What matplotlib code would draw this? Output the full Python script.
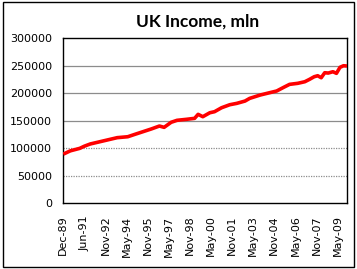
"""UK income (mln) line chart, Excel-style look."""

import matplotlib

matplotlib.use("Agg")
import matplotlib.pyplot as plt
from matplotlib.patches import Rectangle

# months since Dec-89
months = [0, 6, 14, 18, 23, 31, 40, 46, 55, 61, 68, 75, 82, 86, 92, 97, 105,
          112, 115, 119, 125, 129, 135, 142, 148, 155, 159, 168, 176, 182, 188,
          193, 200, 206, 210, 214, 217, 220, 223, 226, 230, 233, 236, 239, 242]
income = [89000, 95000, 99500, 103500, 107500, 111500, 116000, 119000, 120700,
          125000, 129900, 134800, 140200, 137800, 147000, 150600, 152400,
          154200, 161500, 157200, 164400, 166300, 173500, 179000, 181500,
          185700, 190600, 196700, 200900, 204000, 210700, 216100, 218000,
          220900, 225200, 230000, 231800, 228200, 237300, 236700, 239100,
          236200, 247100, 250000, 249500]

tick_labels = ["Dec-89", "Jun-91", "Nov-92", "May-94", "Nov-95", "May-97",
               "Nov-98", "May-00", "Nov-01", "May-03", "Nov-04", "May-06",
               "Nov-07", "May-09"]
y_ticks = [0, 50000, 100000, 150000, 200000, 250000, 300000]

fig = plt.figure(figsize=(3.57, 2.69), dpi=100)
fig.patches.append(Rectangle((0.008, 0.008), 0.984, 0.983, transform=fig.transFigure,
                             fill=False, edgecolor="black", lw=1.0))
ax = fig.add_axes([0.1773, 0.2454, 0.7947, 0.6122])

for y in y_ticks[1:-1]:
    ls = "-" if y >= 150000 else (0, (1, 1))
    ax.axhline(y, color="#8c8c8c", lw=0.9, ls=ls, zorder=1)

ax.plot(months, income, color="#ff0000", lw=2.6, solid_capstyle="butt", zorder=3)

ax.set_xlim(0, 242)
ax.set_ylim(0, 300000)
ax.set_yticks(y_ticks)
ax.set_yticklabels([str(v) for v in y_ticks])
ax.set_xticks(range(0, 18 * len(tick_labels), 18))
ax.set_xticklabels(tick_labels, rotation=90)
ax.tick_params(axis="both", length=0, labelsize=8)
ax.tick_params(axis="y", pad=8)
ax.tick_params(axis="x", pad=9)
for s in ax.spines.values():
    s.set_linewidth(1.0)
    s.set_color("black")

fig.text(0.553, 0.92, "UK Income, mln", ha="center", va="center",
         fontsize=12.5, fontweight="bold", family=["Lato", "DejaVu Sans"])

fig.savefig("out.png", dpi=100)
